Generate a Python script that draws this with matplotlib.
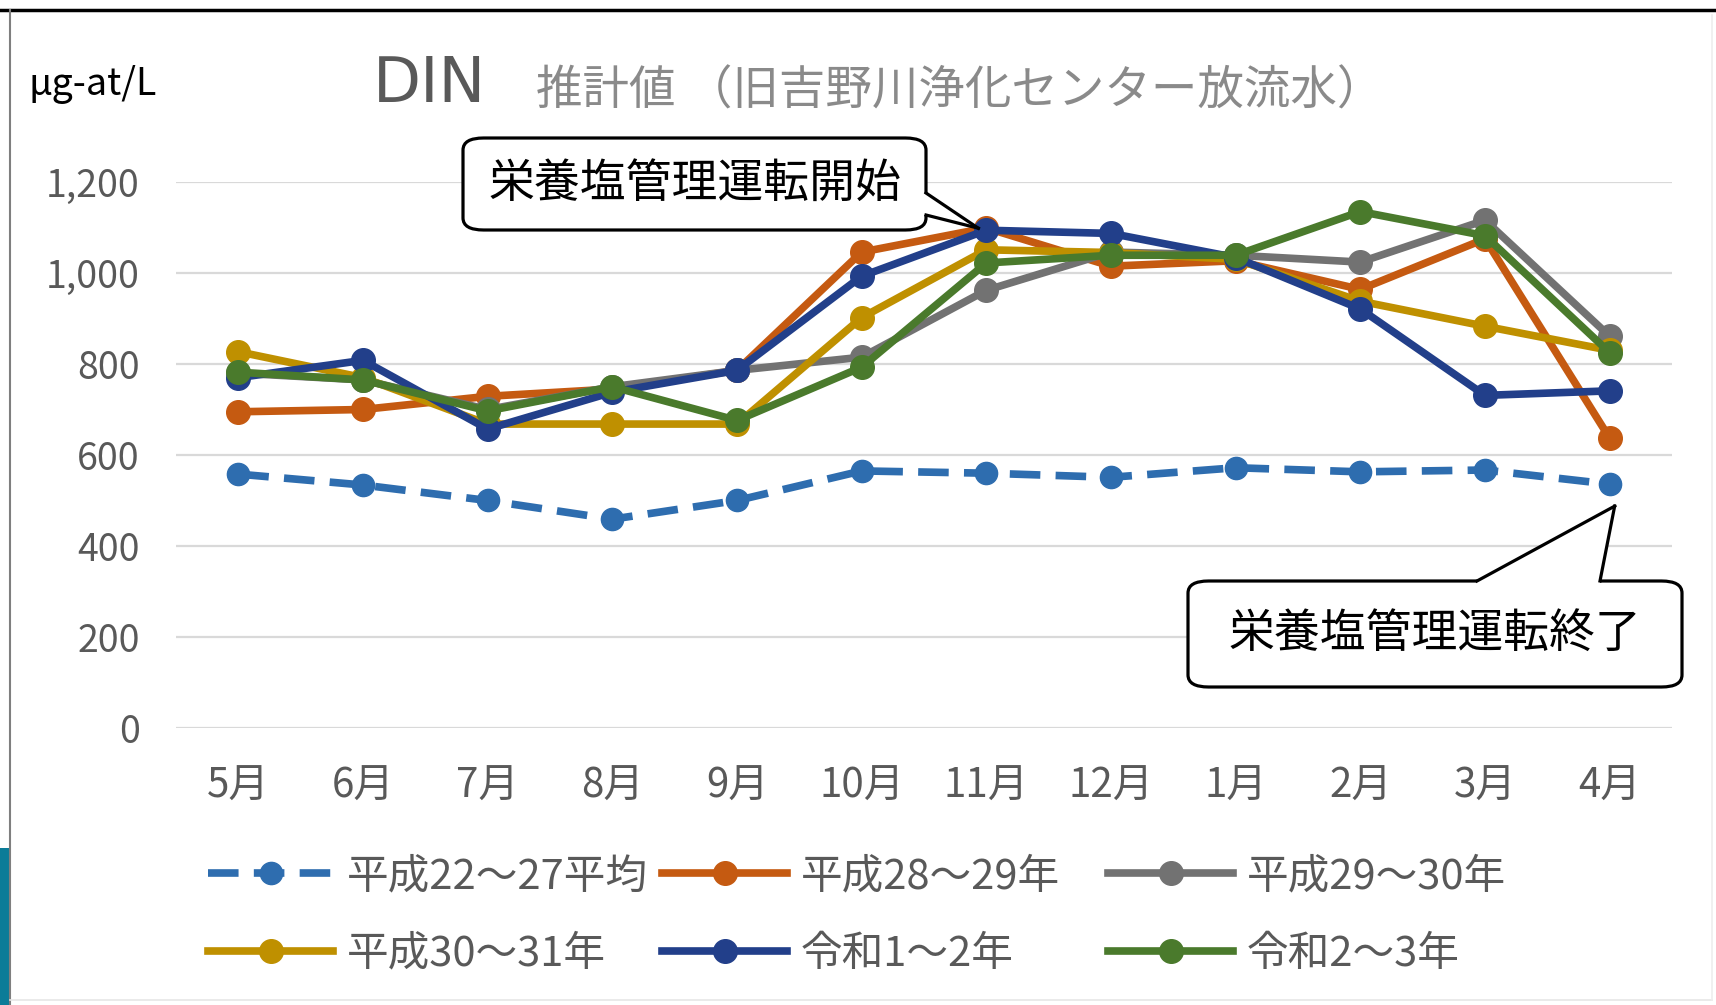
import matplotlib
matplotlib.use('Agg')
import matplotlib.pyplot as plt
from matplotlib.patches import FancyBboxPatch, Polygon, Rectangle
from matplotlib.lines import Line2D
import numpy as np

plt.rcParams['font.family'] = ['Noto Sans CJK JP', 'DejaVu Sans']

# data (µg-at/L)
months = ['5月', '6月', '7月', '8月', '9月', '10月', '11月', '12月', '1月', '2月', '3月', '4月']
h22_27 = [558, 534, 500, 459, 500, 565, 560, 551, 572, 563, 567, 536]
h28_29 = [695, 700, 729, 745, 786, 1046, 1099, 1015, 1027, 964, 1075, 637]
h29_30 = [780, 765, 700, 750, 786, 815, 962, 1046, 1039, 1024, 1116, 861]
h30_31 = [827, 770, 668, 668, 668, 902, 1051, 1045, 1030, 938, 883, 830]
r1_2 = [770, 808, 657, 738, 786, 993, 1094, 1087, 1034, 921, 731, 741]
r2_3 = [782, 765, 697, 750, 676, 793, 1022, 1039, 1039, 1135, 1082, 825]

labels = ['平成22～27平均', '平成28～29年', '平成29～30年', '平成30～31年', '令和1～2年', '令和2～3年']
colors = ['#2e6daf', '#c55a11', '#727272', '#bf9000', '#223f8a', '#4a7a2c']
series = [h22_27, h28_29, h29_30, h30_31, r1_2, r2_3]

W, H = 1716, 1005
fig = plt.figure(figsize=(W / 100, H / 100), dpi=100)
fig.patch.set_facecolor('white')

ax = fig.add_axes([176 / W, 277 / H, (1672 - 176) / W, (823 - 277) / H])
x = np.arange(len(months))

handles = []
for i, (s, c, lab) in enumerate(zip(series, colors, labels)):
    if i == 0:
        ln, = ax.plot(x, s, color=c, lw=5.5, ls=(0, (4, 2)), marker='o', ms=16,
                      mec=c, mfc=c, label=lab, zorder=3)
    else:
        ln, = ax.plot(x, s, color=c, lw=5.5, marker='o', ms=17,
                      mec=c, mfc=c, label=lab, zorder=3 + i)
    handles.append(ln)

ax.set_xlim(-0.5, len(months) - 0.5)
ax.set_ylim(0, 1200)
ax.set_yticks(np.arange(0, 1201, 200))
ax.set_yticklabels([f'{v:,}' for v in range(0, 1201, 200)])
ax.set_xticks(x)
ax.set_xticklabels(months)
ax.grid(axis='y', color='#d9d9d9', lw=1.6)
ax.set_axisbelow(True)
for sp in ax.spines.values():
    sp.set_visible(False)
ax.tick_params(axis='both', length=0, colors='#595959')
ax.tick_params(axis='y', labelsize=27, pad=26)
ax.tick_params(axis='x', labelsize=29, pad=27)

# titles
fig.text(29 / W, 920 / H, 'μg-at/L', fontsize=27, color='black', va='center', ha='left')
fig.text(373 / W, 920 / H, 'DIN', fontsize=45, color='#595959', va='center', ha='left',
         family='DejaVu Sans')
fig.text(536 / W, 914 / H, '推計値 （旧吉野川浄化センター放流水）', fontsize=33.5, color='#8a8a8a',
         va='center', ha='left')

# legend, three columns
cols = [(208, [0, 3]), (662, [1, 4]), (1108, [2, 5])]
for xp, idx in cols:
    lg = fig.legend([handles[k] for k in idx], [labels[k] for k in idx],
                    loc='upper left', bbox_to_anchor=(xp / W, 149 / H),
                    frameon=False, fontsize=30, handlelength=3.0, handletextpad=0.33,
                    labelspacing=0.88, borderpad=0, borderaxespad=0)
    for t in lg.get_texts():
        t.set_color('#595959')


def to_fig(px, py):
    return px / W, py / H


def callout(box, base, tip, text):
    x0, y0, x1, y1 = box
    bb = FancyBboxPatch(to_fig(x0, y0), (x1 - x0) / W, (y1 - y0) / H,
                        boxstyle='round,pad=0,rounding_size=0.012',
                        transform=fig.transFigure, fc='white', ec='black', lw=2.3, zorder=20)
    fig.add_artist(bb)
    tri = Polygon([to_fig(*base[0]), to_fig(*tip), to_fig(*base[1]), to_fig(*base[2]),
                   to_fig(*base[3])],
                  closed=True, transform=fig.transFigure, fc='white', ec='none', zorder=21)
    fig.add_artist(tri)
    for b in (base[0], base[1]):
        fig.add_artist(Line2D([b[0] / W, tip[0] / W], [b[1] / H, tip[1] / H],
                              transform=fig.transFigure, color='black', lw=2.3, zorder=22))
    fig.text((x0 + x1) / 2 / W, (y0 + y1) / 2 / H, text, fontsize=33, color='black',
             ha='center', va='center', zorder=23)


fig.canvas.draw()
# tip 1 -> 11月 peak point, tip 2 -> just below 4月 average point
p1 = ax.transData.transform((6, r1_2[6]))
p2 = ax.transData.transform((11, h22_27[11]))

callout((463, 775, 926, 867), [(926, 812), (926, 790), (921, 790), (921, 812)],
        (p1[0] - 8, p1[1] + 2), '栄養塩管理運転開始')
callout((1188, 318, 1682, 424), [(1477, 424), (1600, 424), (1600, 419), (1477, 419)],
        (p2[0] + 5, p2[1] - 22), '栄養塩管理運転終了')

# outer frame of the slide picture
fig.add_artist(Line2D([0, 1], [995 / H, 995 / H], transform=fig.transFigure,
                      color='black', lw=2.5))
fig.add_artist(Line2D([10 / W, 10 / W], [0, 995 / H], transform=fig.transFigure,
                      color='#7f7f7f', lw=1.5))
fig.add_artist(Line2D([10 / W, 1712 / W], [5 / H, 5 / H], transform=fig.transFigure,
                      color='#e6e6e6', lw=1.2))
fig.add_artist(Line2D([1712 / W, 1712 / W], [5 / H, 990 / H], transform=fig.transFigure,
                      color='#eeeeee', lw=1.2))
fig.add_artist(Rectangle((0, 0), 9 / W, 157 / H, transform=fig.transFigure,
                         fc='#0b7c98', ec='none'))

fig.savefig('out.png', dpi=100)
